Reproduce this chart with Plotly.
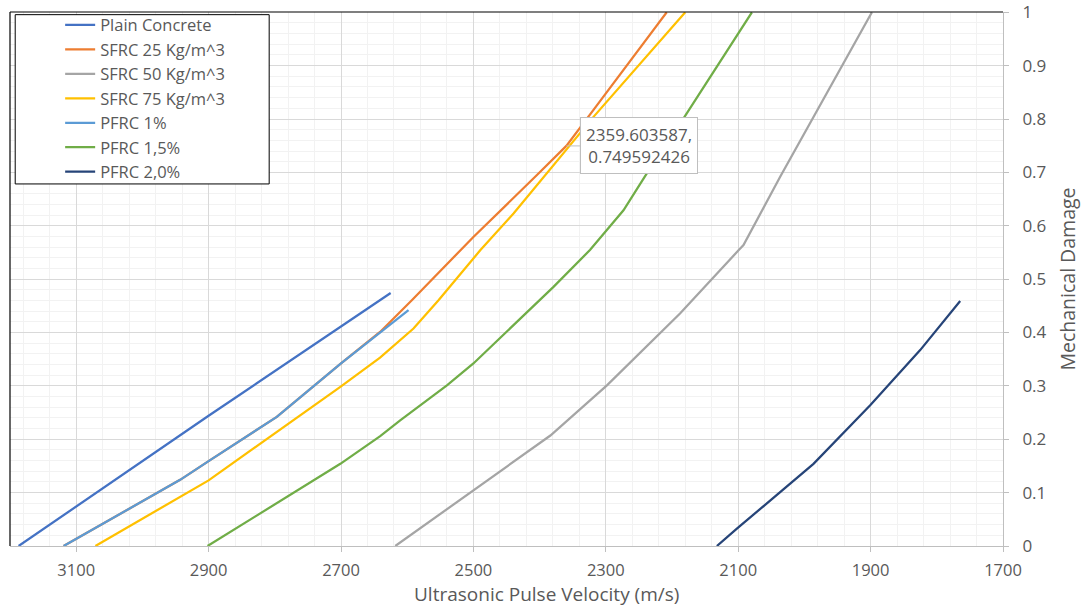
import plotly.graph_objects as go

# ---- data ----
plain_v = [3187, 2900, 2625]
plain_d = [0.0, 0.244, 0.474]

sfrc25_v = [3119, 2943, 2900, 2797, 2700, 2641, 2593, 2500, 2404, 2359.603587, 2318.6, 2208]
sfrc25_d = [0.0, 0.124, 0.159, 0.242, 0.342, 0.401, 0.4605, 0.579, 0.695, 0.749592426, 0.817, 1.0]

sfrc50_v = [2618, 2500, 2383.7, 2298.3, 2187.9, 2099.5, 2092, 2036.6, 1986.3, 1898]
sfrc50_d = [0.0, 0.104, 0.207, 0.301, 0.4356, 0.554, 0.5637, 0.692, 0.804, 1.0]

sfrc75_v = [3071, 2900, 2701, 2641, 2590.5, 2552.7, 2489.7, 2439.4, 2318.6, 2180]
sfrc75_d = [0.0, 0.123, 0.298, 0.353, 0.4075, 0.4605, 0.554, 0.623, 0.804, 1.0]

pfrc1_v = [3119, 2943, 2900, 2797, 2700, 2598]
pfrc1_d = [0.0, 0.124, 0.159, 0.242, 0.342, 0.442]

pfrc15_v = [2901.6, 2701, 2640.8, 2610.6, 2540, 2500, 2379, 2323.6, 2273.3, 2238, 2182.6, 2079.3]
pfrc15_d = [0.0, 0.154, 0.206, 0.2355, 0.301, 0.342, 0.4855, 0.555, 0.629, 0.698, 0.801, 1.0]

pfrc20_v = [2132.2, 2102, 1986.3, 1900.6, 1825.1, 1764.7]
pfrc20_d = [0.0, 0.0324, 0.154, 0.2636, 0.367, 0.459]

names = ["Plain Concrete", "SFRC 25 Kg/m^3", "SFRC 50 Kg/m^3", "SFRC 75 Kg/m^3",
         "PFRC 1%", "PFRC 1,5%", "PFRC 2,0%"]
colors = ["#4472C4", "#ED7D31", "#A5A5A5", "#FFC000", "#5B9BD5", "#70AD47", "#264478"]
series = [(plain_v, plain_d), (sfrc25_v, sfrc25_d), (sfrc50_v, sfrc50_d), (sfrc75_v, sfrc75_d),
          (pfrc1_v, pfrc1_d), (pfrc15_v, pfrc15_d), (pfrc20_v, pfrc20_d)]

x_ticks = [1700, 1900, 2100, 2300, 2500, 2700, 2900, 3100]
y_ticks = [0, 0.1, 0.2, 0.3, 0.4, 0.5, 0.6, 0.7, 0.8, 0.9, 1]
y_ticktext = ["0", "0.1", "0.2", "0.3", "0.4", "0.5", "0.6", "0.7", "0.8", "0.9", "1"]

callout_x = 2359.603587
callout_y = 0.749592426

FONT = "Open Sans"
TXT = "#595959"

fig = go.Figure()
for (v, d), n, c in zip(series, names, colors):
    fig.add_trace(go.Scatter(x=v, y=d, mode="lines", name=n,
                             line=dict(color=c, width=2.25)))

fig.update_layout(
    width=1081, height=606,
    margin=dict(l=10, r=78, t=12, b=60, autoexpand=False),
    paper_bgcolor="white", plot_bgcolor="white",
    font=dict(family=FONT, color=TXT, size=17),
    showlegend=True,
    legend=dict(x=0.0505, y=1.008, xanchor="left", yanchor="top",
                bgcolor="rgba(0,0,0,0)", borderwidth=0,
                font=dict(family=FONT, size=16.5, color=TXT)),
    xaxis=dict(range=[3200, 1700], tickvals=x_ticks,
               ticktext=[str(t) for t in x_ticks],
               showgrid=True, gridcolor="#D9D9D9", gridwidth=1,
               minor=dict(dtick=40, tick0=1700, showgrid=True, gridcolor="#F2F2F2", ticks=""),
               showline=True, linecolor="#BFBFBF", linewidth=1,
               ticks="outside", ticklen=5, tickcolor="#BFBFBF",
               ticklabelstandoff=4,
               tickfont=dict(family=FONT, size=16.5, color=TXT),
               zeroline=False),
    yaxis=dict(range=[0, 1.0005], side="right", tickvals=y_ticks,
               ticktext=y_ticktext,
               showgrid=True, gridcolor="#D9D9D9", gridwidth=1,
               minor=dict(dtick=0.02, tick0=0, showgrid=True, gridcolor="#F2F2F2", ticks=""),
               showline=True, linecolor="#BFBFBF", linewidth=1,
               ticks="outside", ticklen=5, tickcolor="#BFBFBF",
               ticklabelstandoff=10,
               tickfont=dict(family=FONT, size=17, color=TXT),
               title=dict(text="Mechanical Damage", standoff=20,
                          font=dict(family=FONT, size=19.5, color=TXT)),
               zeroline=False),
)

# x-axis title (offset to the right like the reference)
fig.add_annotation(xref="paper", yref="paper", x=0.54, y=0, yshift=-48,
                   xanchor="center", yanchor="middle", showarrow=False, borderpad=0,
                   text="Ultrasonic Pulse Velocity (m/s)",
                   font=dict(family=FONT, size=19, color=TXT))

# top and left borders of the plot area
fig.add_shape(type="line", xref="paper", yref="paper", x0=0, x1=1, y0=1, y1=1,
              line=dict(color="#000000", width=1.2), layer="above")
fig.add_shape(type="line", xref="paper", yref="paper", x0=0, x1=0, y0=0, y1=1,
              line=dict(color="#000000", width=1.2), layer="above")

# legend frame
fig.add_shape(type="rect", xref="paper", yref="paper",
              x0=0.00524, x1=0.261, y0=0.678, y1=0.995,
              line=dict(color="#000000", width=1), fillcolor="white", layer="above")

# data label callout
fig.add_annotation(x=callout_x, y=callout_y, xref="x", yref="y",
                   text=f"{callout_x},<br>{callout_y}",
                   showarrow=True, arrowhead=0, arrowwidth=1, arrowcolor="#BFBFBF",
                   ax=73, ay=0, standoff=0,
                   bgcolor="white", bordercolor="#BFBFBF", borderwidth=1, borderpad=5,
                   font=dict(family=FONT, size=17, color=TXT), align="center")

fig.write_html("out.html", config={"displayModeBar": False},
               post_script="document.body.style.margin='0';")
